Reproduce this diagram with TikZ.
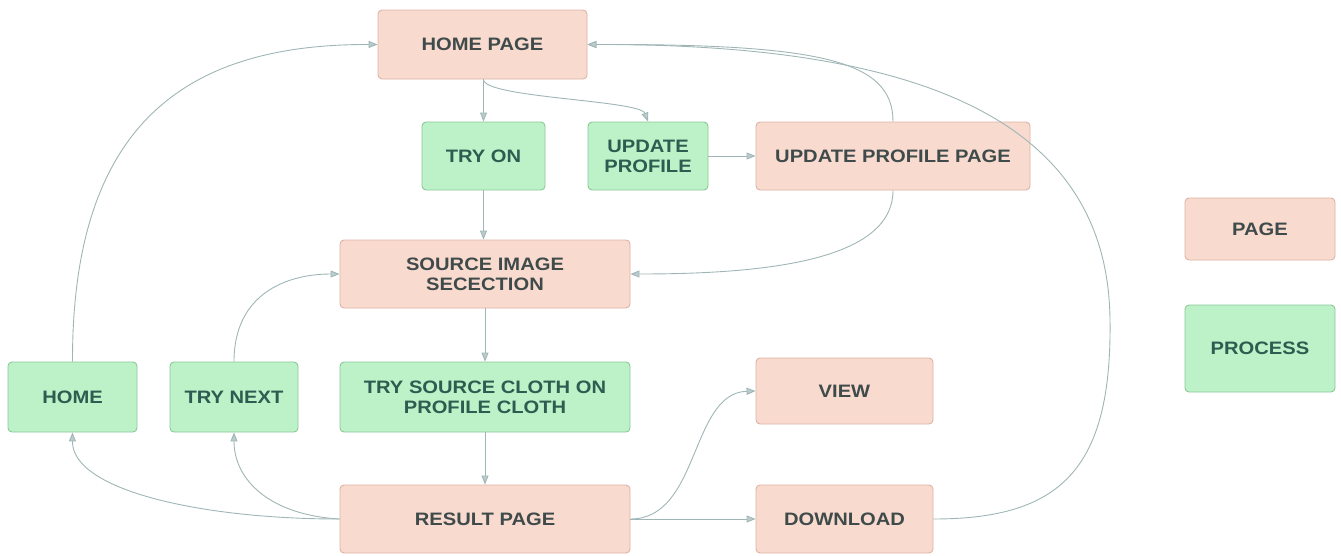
\documentclass[tikz,border=0pt]{standalone}
\usepackage{fontspec}
\setmainfont[FakeStretch=1.12]{Liberation Sans}
\usetikzlibrary{arrows.meta}
\definecolor{pagefill}{HTML}{F9DACF}
\definecolor{pagedraw}{HTML}{DDB3A6}
\definecolor{procfill}{HTML}{BDF2C8}
\definecolor{procdraw}{HTML}{8CC79A}
\definecolor{pagetext}{HTML}{3F4B4B}
\definecolor{proctext}{HTML}{2D5C50}
\definecolor{conn}{HTML}{9FB5B6}
\tikzset{
  pagebox/.style={draw=pagedraw, fill=pagefill, rounded corners=4pt, line width=0.9pt,
    text=pagetext, font=\fontsize{18}{20}\selectfont\bfseries, align=center, inner sep=0pt},
  procbox/.style={draw=procdraw, fill=procfill, rounded corners=4pt, line width=0.9pt,
    text=proctext, font=\fontsize{18}{20}\selectfont\bfseries, align=center, inner sep=0pt},
  conn/.style={draw=conn, line width=0.9pt, -{Triangle[length=9pt,width=7pt,fill=conn!70]}},
}
\begin{document}
\begin{tikzpicture}[x=1pt,y=-1pt]
\useasboundingbox (0,0) rectangle (1341,555);
\node[pagebox, minimum width=209pt, minimum height=69pt] (hp) at (482.5,44.5) {HOME PAGE};
\node[procbox, minimum width=123pt, minimum height=68pt] (try) at (483.5,156) {TRY ON};
\node[procbox, minimum width=120pt, minimum height=68pt] (up) at (648,156) {UPDATE\\PROFILE};
\node[pagebox, minimum width=274pt, minimum height=68pt] (upp) at (893,156) {UPDATE PROFILE PAGE};
\node[pagebox, minimum width=290pt, minimum height=68pt] (src) at (485,274) {SOURCE IMAGE\\SECECTION};
\node[procbox, minimum width=129pt, minimum height=70pt] (home) at (72.5,397) {HOME};
\node[procbox, minimum width=128pt, minimum height=70pt] (next) at (234,397) {TRY NEXT};
\node[procbox, minimum width=290pt, minimum height=70pt] (tsc) at (485,397) {TRY SOURCE CLOTH ON\\PROFILE CLOTH};
\node[pagebox, minimum width=177pt, minimum height=66pt] (view) at (844.5,391) {VIEW};
\node[pagebox, minimum width=290pt, minimum height=68pt] (res) at (485,519) {RESULT PAGE};
\node[pagebox, minimum width=177pt, minimum height=68pt] (dl) at (844.5,519) {DOWNLOAD};
\node[pagebox, minimum width=150pt, minimum height=62pt] (lpage) at (1260,229) {PAGE};
\node[procbox, minimum width=150pt, minimum height=87pt] (lproc) at (1260,348.5) {PROCESS};

\draw[conn] (hp.south -| try.north) -- (try.north);
\draw[conn] (hp.south -| try.north) .. controls (484,98) and (640,100) .. (up.north);
\draw[conn] (try) -- (src.north -| try.south);
\draw[conn] (up) -- (upp);
\draw[conn] (upp.north) .. controls (893,60) and (820,44) .. (hp.east);
\draw[conn] (upp.south) .. controls (893,262) and (760,274) .. (src.east);
\draw[conn] (src) -- (tsc);
\draw[conn] (tsc) -- (res);
\draw[conn] (res.west) .. controls (200,519) and (72,490) .. (home.south);
\draw[conn] (res.west) .. controls (270,515) and (234,480) .. (next.south);
\draw[conn] (next.north) .. controls (234,295) and (285,274) .. (src.west);
\draw[conn] (home.north) .. controls (72,120) and (190,44) .. (hp.west);
\draw[conn] (res.east) .. controls (700,519) and (690,393) .. (view.west);
\draw[conn] (res) -- (dl);
\draw[conn] (dl.east) .. controls (1060,519) and (1112,470) .. (1110,320)
  .. controls (1108,110) and (900,44) .. (hp.east);
\end{tikzpicture}
\end{document}
